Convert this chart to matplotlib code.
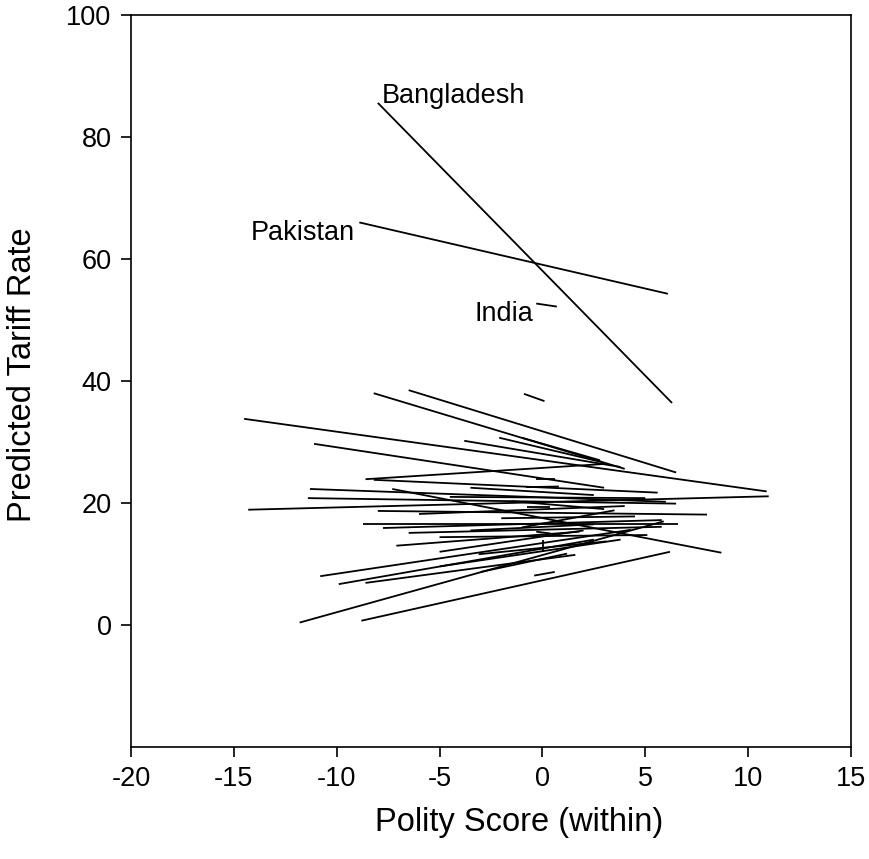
import matplotlib.pyplot as plt

plt.rcParams['font.family'] = ['Liberation Sans', 'DejaVu Sans']
plt.rcParams['axes.unicode_minus'] = False

# each row: polity start, tariff start, polity end, tariff end
countries = ["Bangladesh", "Pakistan", "India"]
labelled = [
    (-8.0, 85.6, 6.3, 36.4),
    (-8.9, 66.0, 6.1, 54.3),
    (-0.3, 52.7, 0.7, 52.2),
]
label_pos = [(-7.8, 86.7, "left"), (-9.1, 64.3, "right"), (-0.45, 51.0, "right")]

others = [
    (-14.5, 33.8, 10.9, 21.9),
    (-8.2, 38.0, 4.0, 25.6),
    (-6.5, 38.5, 6.5, 25.0),
    (-0.9, 37.9, 0.1, 36.7),
    (-3.8, 30.2, 3.8, 25.9),
    (-2.1, 30.7, 2.9, 26.7),
    (-1.0, 30.7, 2.8, 27.0),
    (-11.1, 29.7, 3.0, 22.5),
    (-8.6, 23.9, 3.0, 26.4),
    (-8.2, 23.8, 5.6, 21.7),
    (-11.3, 22.3, 6.0, 20.2),
    (-11.4, 20.8, 6.5, 19.9),
    (-14.3, 18.9, 11.0, 21.1),
    (-8.0, 18.7, 8.0, 18.1),
    (-8.7, 16.6, 6.6, 16.6),
    (-7.75, 15.9, 5.8, 17.2),
    (-6.5, 15.1, 5.8, 16.1),
    (-5.0, 14.4, 5.1, 14.75),
    (-7.1, 13.0, 1.8, 15.3),
    (-3.1, 11.6, 3.1, 13.7),
    (-10.8, 8.0, 4.3, 15.6),
    (-9.9, 6.7, 2.5, 14.0),
    (-8.6, 6.9, 1.6, 11.5),
    (-11.8, 0.4, 5.9, 17.0),
    (-8.8, 0.7, 6.2, 12.0),
    (-7.3, 22.3, 8.7, 11.85),
    (-0.4, 8.1, 0.6, 8.7),
    (-3.0, 8.7, 1.2, 11.7),
    (-5.0, 9.6, 3.8, 14.0),
    (-5.0, 12.0, 2.0, 15.5),
    (-3.5, 22.5, 2.5, 21.3),
    (-0.3, 23.9, 0.6, 23.9),
    (-0.8, 22.6, 0.8, 22.7),
    (-0.76, 19.4, 0.37, 19.4),
    (-0.3, 15.3, 0.4, 15.0),
    (0.05, 14.0, 0.05, 12.0),
    (-6.0, 18.2, 4.0, 19.5),
    (-4.5, 21.0, 5.0, 20.8),
    (-2.0, 17.5, 4.5, 17.8),
    (-1.0, 16.0, 3.5, 18.8),
    (-3.5, 15.5, 2.5, 16.5),
    (-1.5, 20.3, 3.0, 19.0),
]

fig = plt.figure(figsize=(8.69, 8.59), dpi=100)
ax = fig.add_axes([0.1507, 0.1304, 0.8286, 0.8521])

for x0, y0, x1, y1 in labelled + others:
    ax.plot([x0, x1], [y0, y1], color="black", lw=1.3, solid_capstyle="butt")

for name, (tx, ty, ha) in zip(countries, label_pos):
    ax.text(tx, ty, name, ha=ha, va="center", fontsize=19.5)

ax.set_xlim(-20, 15)
ax.set_ylim(-20, 100)
ax.set_xticks(range(-20, 16, 5))
ax.set_yticks(range(0, 101, 20))
ax.tick_params(direction="out", length=7, width=1.2, labelsize=19.5, pad=7,
               top=False, right=False)
for s in ax.spines.values():
    s.set_linewidth(1.2)

ax.set_xlabel("Polity Score (within)", fontsize=23.5, va="center")
ax.set_ylabel("Predicted Tariff Rate", fontsize=23.5, va="center")
ax.xaxis.set_label_coords(0.539, -0.1025)
ax.yaxis.set_label_coords(-0.151, 0.509)

fig.savefig("out.png", dpi=100)
